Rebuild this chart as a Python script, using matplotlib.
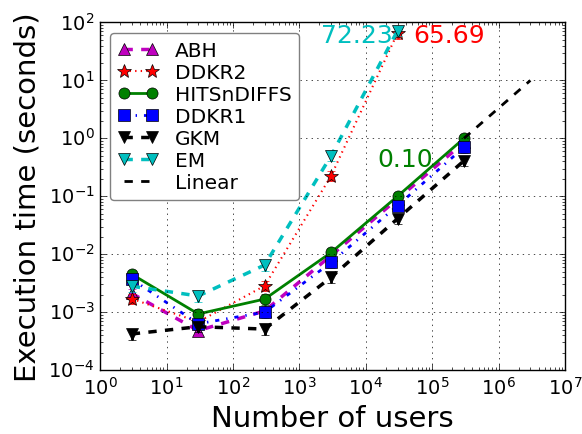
import numpy as np
import matplotlib
matplotlib.use('Agg')
import matplotlib.pyplot as plt

# number of users on the x axis
users = [3, 30, 300, 3000, 30000, 300000]

# execution times (seconds)
abh = [2.1e-3, 4.8e-4, 1.05e-3, 9.5e-3, 0.09, 0.85]
ddkr2 = [1.7e-3, 6.8e-4, 2.85e-3, 0.225, 65.69]
hits = [4.5e-3, 9.3e-4, 1.68e-3, 0.0107, 0.10, 1.0]
ddkr1 = [3.7e-3, 6.3e-4, 1.0e-3, 7.2e-3, 0.069, 0.70]
gkm = [4.2e-4, 5.6e-4, 5.1e-4, 4.0e-3, 0.041, 0.41]
em = [2.8e-3, 1.9e-3, 6.5e-3, 0.50, 72.23]
lin_x = [3e5, 3e6]
lin_y = [1.0, 10.0]

# relative error (fraction of value)
rel_err = 0.2

plt.style.use('classic')
fig = plt.figure(figsize=(5.82, 4.35), dpi=100)
ax = fig.add_axes([0.172, 0.147, 0.799, 0.799])

handles = []
def draw(x, y, fmt, color, label, ms=8, lw=2):
    y = np.array(y)
    x = x[:len(y)]
    ax.errorbar(x, y, yerr=rel_err*y, fmt='none', ecolor=color,
                capsize=3, elinewidth=2)
    h, = ax.plot(x, y, fmt, color=color, mfc=color, mec='k', ms=ms,
                 lw=lw, label=label)
    handles.append(h)

draw(users, abh, '^--', 'm', 'ABH', lw=2.5)
draw(users, ddkr2, '*:', 'r', 'DDKR2', ms=10, lw=1.5)
draw(users, hits, 'o-', 'g', 'HITSnDIFFS')
draw(users, ddkr1, 's-.', 'b', 'DDKR1')
draw(users, gkm, 'v--', 'k', 'GKM', lw=2.5)
draw(users, em, 'v--', 'c', 'EM', lw=2.5)
h, = ax.plot(lin_x, lin_y, 'k--', lw=2, label='Linear')
handles.append(h)

ax.text(2.5e4, 60, '%.2f' % em[-1], color='c', fontsize=18,
        ha='right', va='center')
ax.text(5.1e4, 60, '%.2f' % ddkr2[-1], color='r', fontsize=18,
        ha='left', va='center')
ax.text(1.5e4, 0.44, '%.2f' % hits[4], color='g', fontsize=18,
        ha='left', va='center')

ax.set_xscale('log')
ax.set_yscale('log')
ax.set_xlim(1, 1e7)
ax.set_ylim(1e-4, 1e2)
ax.grid(True)
ax.tick_params(labelsize=14)
ax.set_xlabel('Number of users', fontsize=21)
ax.set_ylabel('Execution time (seconds)', fontsize=21)

leg = ax.legend(handles=handles, loc='upper left', fontsize=14.5,
                numpoints=2, fancybox=True, labelspacing=0.15,
                handlelength=2.0)
leg.get_frame().set_edgecolor('0.5')

fig.savefig('out.png', dpi=100)
